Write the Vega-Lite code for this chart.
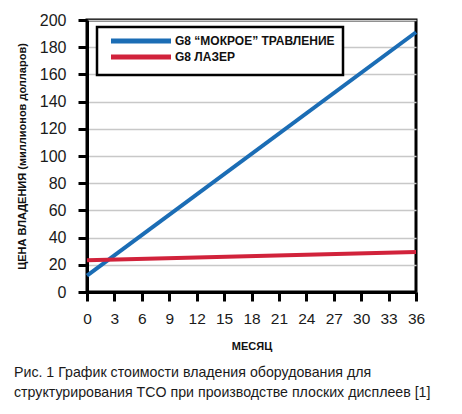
{
  "$schema": "https://vega.github.io/schema/vega-lite/v6.json",
  "width": 329,
  "height": 272,
  "autosize": {"type": "none"},
  "padding": {"left": 87, "top": 20, "right": 46, "bottom": 122},
  "background": "white",
  "config": {
    "font": "Liberation Sans",
    "view": {"stroke": "black", "strokeWidth": 3}
  },
  "title": {
    "text": ["Рис. 1 График стоимости владения оборудования для", "структурирования TCO при производстве плоских дисплеев [1]"],
    "orient": "bottom",
    "anchor": "start",
    "frame": "group",
    "dx": -73,
    "offset": 14,
    "fontSize": 14.2,
    "fontWeight": "normal",
    "color": "#1a1a1a",
    "lineHeight": 20
  },
  "data": {
    "values": [
      {"series": "G8 “МОКРОЕ” ТРАВЛЕНИЕ", "month": 0, "cost": 12},
      {"series": "G8 “МОКРОЕ” ТРАВЛЕНИЕ", "month": 36, "cost": 191},
      {"series": "G8  ЛАЗЕР", "month": 0, "cost": 23.3},
      {"series": "G8  ЛАЗЕР", "month": 36, "cost": 29.5}
    ]
  },
  "mark": {"type": "line", "strokeWidth": 4},
  "encoding": {
    "x": {
      "field": "month",
      "type": "quantitative",
      "scale": {"domain": [0, 36], "nice": false},
      "axis": {
        "values": [0, 3, 6, 9, 12, 15, 18, 21, 24, 27, 30, 33, 36],
        "grid": false,
        "tickSize": 9,
        "tickWidth": 3,
        "tickColor": "black",
        "domainColor": "black",
        "domainWidth": 3,
        "labelFontSize": 15.5,
        "labelPadding": 10,
        "labelColor": "#1a1a1a",
        "labelFlush": false,
        "title": "МЕСЯЦ",
        "titleFontSize": 11,
        "titleFontWeight": "bold",
        "titleColor": "#111",
        "titlePadding": 14
      }
    },
    "y": {
      "field": "cost",
      "type": "quantitative",
      "scale": {"domain": [0, 200], "nice": false},
      "axis": {
        "values": [0, 20, 40, 60, 80, 100, 120, 140, 160, 180, 200],
        "grid": true,
        "gridColor": "#c8c8c8",
        "gridWidth": 1.5,
        "tickSize": 9,
        "tickWidth": 3,
        "tickColor": "black",
        "domainColor": "black",
        "domainWidth": 3,
        "labelFontSize": 16,
        "labelPadding": 12,
        "labelColor": "#1a1a1a",
        "labelFlush": false,
        "title": "ЦЕНА ВЛАДЕНИЯ (миллионов долларов)",
        "titleFontSize": 11,
        "titleFontWeight": "bold",
        "titleColor": "#111",
        "titlePadding": 12
      }
    },
    "color": {
      "field": "series",
      "type": "nominal",
      "scale": {
        "domain": ["G8 “МОКРОЕ” ТРАВЛЕНИЕ", "G8  ЛАЗЕР"],
        "range": ["#1b6db5", "#d1223b"]
      },
      "legend": {
        "orient": "none",
        "legendX": 10,
        "legendY": 7,
        "title": null,
        "direction": "vertical",
        "symbolType": "M0,0H20",
        "symbolSize": 36,
        "symbolStrokeWidth": 5,
        "labelFontSize": 12,
        "labelFontWeight": "bold",
        "labelColor": "#111",
        "labelOffset": 58,
        "labelLimit": 300,
        "strokeColor": "black",
        "fillColor": "white",
        "padding": 8,
        "rowPadding": -8,
        "encode": {"legend": {"update": {"strokeWidth": {"value": 2.5}}}}
      }
    }
  }
}
